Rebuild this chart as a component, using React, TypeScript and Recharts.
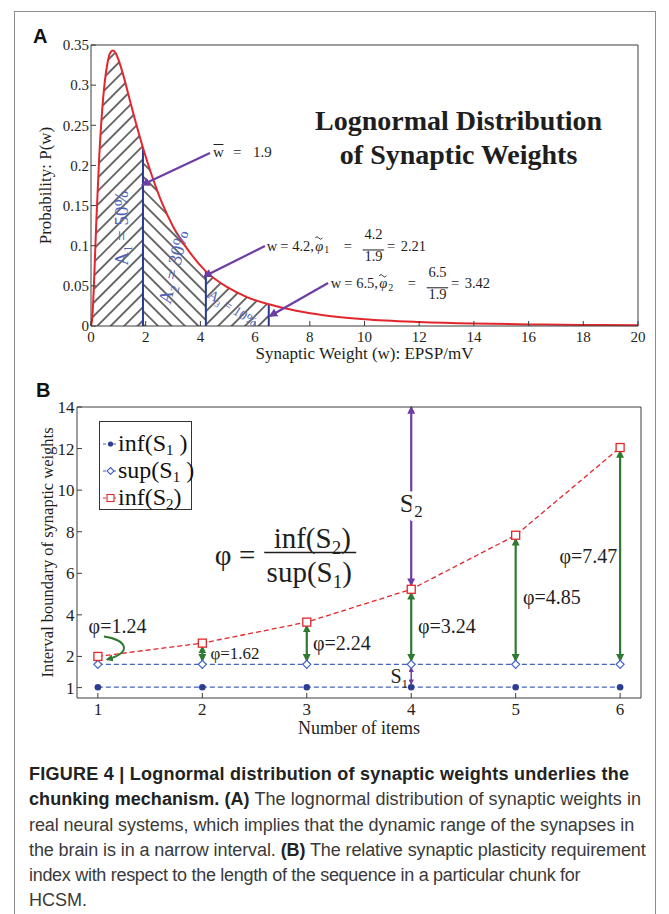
import React from 'react';
import {
    ComposedChart,
    Line,
    Area,
    XAxis,
    YAxis,
    ReferenceLine,
    ReferenceDot,
    Legend
} from 'recharts';

const SERIF = "'Liberation Serif', 'Times New Roman', Times, serif";
const SANS = "'Liberation Sans', Arial, Helvetica, sans-serif";

const RED = '#e3262c';
const NAVY = '#2a3990';
const PURPLE = '#6c3ea6';
const LABEL_BLUE = '#5063b8';
const GREEN = '#2f7a30';
const DOT_NAVY = '#2c3e94';
const DASH_BLUE = '#4262c4';
const AXIS = '#3c3c3c';
const INK = '#1e1e1e';

// ---- panel A: lognormal curve ----
const weights = [0, 0.05, 0.1, 0.15, 0.2, 0.3, 0.4, 0.5, 0.6, 0.7, 0.8, 0.9, 1.0, 1.2, 1.4, 1.6, 1.9, 2.2, 2.6, 3.0, 3.5, 4.2, 5.0, 5.7, 6.5, 7.5, 8.5, 10, 12, 14, 16, 18, 20];
const probs = [0, 0.012, 0.045, 0.09, 0.135, 0.21, 0.265, 0.303, 0.327, 0.34, 0.343, 0.34, 0.332, 0.31, 0.284, 0.258, 0.222, 0.19, 0.153, 0.124, 0.097, 0.068, 0.048, 0.036, 0.027, 0.019, 0.0135, 0.0085, 0.005, 0.003, 0.002, 0.0013, 0.0009];
const splitW = [1.9, 4.2, 6.5];
const areaShares = ['50%', '30%', '10%'];
const phiTilde = ['2.21', '3.42'];
const xTicksA = [0, 2, 4, 6, 8, 10, 12, 14, 16, 18, 20];
const yTicksA = [0, 0.05, 0.1, 0.15, 0.2, 0.25, 0.3, 0.35];
const yTickLabelsA = ['0', '0.05', '0.1', '0.15', '0.2', '0.25', '0.3', '0.35'];

// ---- panel B: interval boundaries per number of items ----
const items = [1, 2, 3, 4, 5, 6];
const infS1 = [0.52, 0.52, 0.52, 0.52, 0.52, 0.52];
const supS1 = [1.62, 1.62, 1.62, 1.62, 1.62, 1.62];
const infS2 = [2.0, 2.64, 3.65, 5.23, 7.83, 12.05];
const phiValues = ['1.24', '1.62', '2.24', '3.24', '4.85', '7.47'];
const xTicksB = [1, 2, 3, 4, 5, 6];
const yTicksB = [0.5, 2, 4, 6, 8, 10, 12, 14];
const yTickLabelsB = ['1', '2', '4', '6', '8', '10', '12', '14'];
const seriesNames = ['inf(S1)', 'sup(S1)', 'inf(S2)'];

const splitP = splitW.map(w => probs[weights.indexOf(w)]);

const dataA = weights.map((w, i) => ({
    w,
    p: probs[i],
    a1: w <= splitW[0] ? probs[i] : null,
    a2: w >= splitW[0] && w <= splitW[1] ? probs[i] : null,
    a3: w >= splitW[1] && w <= splitW[2] ? probs[i] : null
}));

const dataB = items.map((n, i) => ({
    n,
    infS1: infS1[i],
    supS1: supS1[i],
    infS2: infS2[i]
}));

// annotation placement (data coords)
const arrowsA = [
    { from: [4.35, 0.2155], to: [1.88, 0.176] },
    { from: [6.36, 0.0996], to: [4.15, 0.062] },
    { from: [8.67, 0.0536], to: [6.55, 0.0125] }
];
const areaLabelAt = [
    { x: 1.1, y: 0.122, angle: -90, size: 19 },
    { x: 3.0, y: 0.0735, angle: -76, size: 19 },
    { x: 5.19, y: 0.0224, angle: 33, size: 14 }
];
const phiLabelAt = [[0.911, 3.44], [2.077, 2.16], [3.06, 2.66], [4.064, 3.44], [5.07, 4.88], [5.42, 6.84]];

const tickA = { fill: INK, fontSize: 15, fontFamily: SERIF };
const tickB = { fill: INK, fontSize: 17, fontFamily: SERIF };

const meanNote = (p: any) => (
    <g fontFamily={SERIF} fontSize={15} fill={INK}>
        <text x={p.cx} y={p.cy} dy="0.35em">w</text>
        <line x1={p.cx + 0.5} x2={p.cx + 10.5} y1={p.cy - 7.5} y2={p.cy - 7.5} stroke={INK} strokeWidth={1} />
        <text x={p.cx + 20} y={p.cy} dy="0.35em">=</text>
        <text x={p.cx + 40} y={p.cy} dy="0.35em">{splitW[0]}</text>
    </g>
);

const phiNote = (w: number, sub: string, result: string) => (p: any) => (
    <g fontFamily={SERIF} fontSize={14.5} fill={INK}>
        <text x={p.cx} y={p.cy} dy="0.35em">w</text>
        <text x={p.cx + 13.5} y={p.cy} dy="0.35em">=</text>
        <text x={p.cx + 25.5} y={p.cy} dy="0.35em">{w},</text>
        <text x={p.cx + 48.5} y={p.cy} dy="0.35em" fontStyle="italic">{'\u03C6'}</text>
        <path d={`M${p.cx + 48.5},${p.cy - 7.5} q1.8,-2.6 3.6,0 t3.6,0`} stroke={INK} fill="none" strokeWidth={0.9} />
        <text x={p.cx + 57.5} y={p.cy + 4} dy="0.35em" fontSize={10}>{sub}</text>
        <text x={p.cx + 77} y={p.cy} dy="0.35em">=</text>
        <text x={p.cx + 106.8} y={p.cy - 11.5} dy="0.35em" textAnchor="middle">{w}</text>
        <line x1={p.cx + 96} x2={p.cx + 117.5} y1={p.cy + 4.5} y2={p.cy + 4.5} stroke={INK} strokeWidth={1} />
        <text x={p.cx + 106.8} y={p.cy + 10.5} dy="0.35em" textAnchor="middle">{splitW[0]}</text>
        <text x={p.cx + 120.2} y={p.cy} dy="0.35em">=</text>
        <text x={p.cx + 134} y={p.cy} dy="0.35em">{result}</text>
    </g>
);

const areaNote = (idx: number) => (p: any) => {
    const a = areaLabelAt[idx];
    return (
        <text
            x={p.cx}
            y={p.cy}
            dy="0.35em"
            textAnchor="middle"
            transform={`rotate(${a.angle}, ${p.cx}, ${p.cy})`}
            fontFamily={SERIF}
            fontSize={a.size}
            fill={LABEL_BLUE}
        >
            A<tspan fontSize={a.size * 0.65} dy={a.size * 0.25}>{idx + 1}</tspan>
            <tspan dy={-a.size * 0.25}> = {areaShares[idx]}</tspan>
        </text>
    );
};

const titleNote = (p: any) => (
    <g fontFamily={SERIF} fontSize={28} fontWeight="bold" fill={INK} textAnchor="middle">
        <text x={p.cx} y={p.cy} dy="0.35em">Lognormal Distribution</text>
        <text x={p.cx} y={p.cy + 34} dy="0.35em">of Synaptic Weights</text>
    </g>
);

function PanelA() {
    return (
        <ComposedChart width={669} height={380} data={dataA} margin={{ top: 44, right: 30, bottom: 0, left: 31 }}>
            <defs>
                <pattern id="hatchUp" patternUnits="userSpaceOnUse" width="9.5" height="9.5" patternTransform="rotate(45)">
                    <line x1="4.75" y1="0" x2="4.75" y2="9.5" stroke="#1f1f1f" strokeWidth="1.3" />
                </pattern>
                <pattern id="hatchDown" patternUnits="userSpaceOnUse" width="9.5" height="9.5" patternTransform="rotate(-45)">
                    <line x1="4.75" y1="0" x2="4.75" y2="9.5" stroke="#1f1f1f" strokeWidth="1.3" />
                </pattern>
                <marker id="arrowPurpleA" viewBox="0 0 10 10" refX="8" refY="5" markerWidth="4" markerHeight="4" orient="auto-start-reverse">
                    <path d="M0,0 L10,5 L0,10 z" fill={PURPLE} />
                </marker>
            </defs>
            <XAxis
                type="number"
                dataKey="w"
                domain={[0, 20]}
                ticks={xTicksA}
                interval={0}
                tickSize={-5}
                tickMargin={10}
                height={54}
                stroke={AXIS}
                tick={tickA}
                label={{ value: 'Synaptic Weight (w): EPSP/mV', position: 'insideBottom', offset: 21, style: { fill: INK, fontSize: 17, fontFamily: SERIF } }}
            />
            <XAxis xAxisId="top" orientation="top" type="number" dataKey="w" domain={[0, 20]} ticks={xTicksA} interval={0} tickSize={-5} height={1} stroke={AXIS} tick={false} />
            <YAxis
                type="number"
                domain={[0, 0.35]}
                ticks={yTicksA}
                interval={0}
                tickFormatter={(v: number) => yTickLabelsA[yTicksA.indexOf(v)]}
                width={60}
                tickSize={-5}
                tickMargin={7}
                stroke={AXIS}
                tick={tickA}
                label={{ value: 'Probability: P(w)', angle: -90, position: 'insideLeft', offset: 14, style: { textAnchor: 'middle', fill: INK, fontSize: 17, fontFamily: SERIF } }}
            />
            <YAxis yAxisId="right" orientation="right" type="number" domain={[0, 0.35]} ticks={yTicksA} interval={0} tickSize={-5} width={1} stroke={AXIS} tick={false} />

            <Area type="monotone" dataKey="a1" stroke="none" fill="url(#hatchUp)" fillOpacity={1} activeDot={false} isAnimationActive={false} />
            <Area type="monotone" dataKey="a2" stroke="none" fill="url(#hatchDown)" fillOpacity={1} activeDot={false} isAnimationActive={false} />
            <Area type="monotone" dataKey="a3" stroke="none" fill="url(#hatchUp)" fillOpacity={1} activeDot={false} isAnimationActive={false} />

            {splitW.map((w, i) => (
                <ReferenceLine key={`split-${w}`} segment={[{ x: w, y: 0 }, { x: w, y: splitP[i] }]} stroke={NAVY} strokeWidth={2} />
            ))}

            <Line type="monotone" dataKey="p" stroke={RED} strokeWidth={2} dot={false} activeDot={false} isAnimationActive={false} />
            {/* binds the box axes so they draw */}
            <Line xAxisId="top" yAxisId="right" type="monotone" dataKey="p" stroke="none" dot={false} activeDot={false} legendType="none" isAnimationActive={false} />

            {arrowsA.map((a, i) => (
                <ReferenceLine
                    key={`arrow-${i}`}
                    segment={[{ x: a.from[0], y: a.from[1] }, { x: a.to[0], y: a.to[1] }]}
                    stroke={PURPLE}
                    strokeWidth={2.2}
                    markerEnd="url(#arrowPurpleA)"
                />
            ))}

            {areaLabelAt.map((a, i) => (
                <ReferenceDot key={`area-${i}`} x={a.x} y={a.y} r={0} shape={areaNote(i)} />
            ))}

            <ReferenceDot x={4.46} y={0.2167} r={0} shape={meanNote} />
            <ReferenceDot x={6.424} y={0.1003} r={0} shape={phiNote(splitW[1], '1', phiTilde[0])} />
            <ReferenceDot x={8.764} y={0.0532} r={0} shape={phiNote(splitW[2], '2', phiTilde[1])} />
            <ReferenceDot x={13.44} y={0.2566} r={0} shape={titleNote} />
        </ComposedChart>
    );
}

const circleDot = (props: any) => (
    <circle key={`c-${props.index}`} cx={props.cx} cy={props.cy} r={3.3} fill={DOT_NAVY} />
);
const diamondDot = (props: any) => {
    const { cx, cy } = props;
    const s = 4;
    return (
        <path key={`d-${props.index}`} d={`M${cx},${cy - s}L${cx + s},${cy}L${cx},${cy + s}L${cx - s},${cy}Z`} fill="#fff" stroke={DASH_BLUE} strokeWidth={1.2} />
    );
};
const squareDot = (props: any) => (
    <rect key={`s-${props.index}`} x={props.cx - 4} y={props.cy - 4} width={8} height={8} fill="#fff" stroke={RED} strokeWidth={1.3} />
);

const legendMarks: Record<string, { color: string; mark: (x: number, y: number) => React.ReactNode }> = {
    infS1: { color: DASH_BLUE, mark: (x, y) => <circle cx={x} cy={y} r={2.6} fill={DOT_NAVY} /> },
    supS1: { color: DASH_BLUE, mark: (x, y) => <path d={`M${x},${y - 3.5}L${x + 3.5},${y}L${x},${y + 3.5}L${x - 3.5},${y}Z`} fill="#fff" stroke={DASH_BLUE} strokeWidth={1.1} /> },
    infS2: { color: RED, mark: (x, y) => <rect x={x - 3.5} y={y - 3.5} width={7} height={7} fill="#fff" stroke={RED} strokeWidth={1.1} /> }
};

function legendText(name: string) {
    // "inf(S1)" -> inf(S<sub>1</sub> )
    const m = name.match(/^(.*S)(\d)\)$/);
    if (!m) return name;
    const spaced = m[2] === '1' ? '\u00A0)' : ')';
    return (
        <>
            {m[1]}
            <sub style={{ fontSize: 15, verticalAlign: '-4px', lineHeight: 0 }}>{m[2]}</sub>
            {spaced}
        </>
    );
}

function LegendBox({ payload }: any) {
    const rows = (payload || [])
        .filter((e: any) => seriesNames.includes(e.value))
        .sort((a: any, b: any) => seriesNames.indexOf(a.value) - seriesNames.indexOf(b.value));
    return (
        <div
            style={{
                border: '1.5px solid #333',
                background: '#fff',
                width: 93,
                height: 89,
                padding: '8px 0 0 3px',
                boxSizing: 'border-box',
                fontFamily: SERIF,
                fontSize: 24,
                lineHeight: '27px',
                color: '#111'
            }}
        >
            {rows.map((entry: any) => {
                const lm = legendMarks[entry.dataKey];
                return (
                    <div key={entry.dataKey} style={{ display: 'flex', alignItems: 'center', height: 27, whiteSpace: 'nowrap' }}>
                        <svg width={15} height={12} style={{ flex: 'none' }}>
                            <line x1={0} x2={15} y1={6} y2={6} stroke={lm.color} strokeWidth={1.2} strokeDasharray="3 2" />
                            {lm.mark(7.5, 6)}
                        </svg>
                        <span>{legendText(entry.value)}</span>
                    </div>
                );
            })}
        </div>
    );
}

const curlArrow = (p: any) => (
    <path
        d={`M${p.cx + 6},${p.cy - 20} C${p.cx + 28},${p.cy - 17} ${p.cx + 36},${p.cy - 4} ${p.cx + 9},${p.cy + 3}`}
        fill="none"
        stroke={GREEN}
        strokeWidth={2}
        markerEnd="url(#arrowGreen)"
    />
);

const phiLabel = (text: string, size: number) => (p: any) => (
    <text x={p.cx} y={p.cy} dy="0.35em" fontFamily={SERIF} fontSize={size} fill={INK}>
        {'\u03C6'}={text}
    </text>
);

const subLabel = (letter: string, sub: string, size: number, halo: boolean) => (p: any) => (
    <text
        x={p.cx}
        y={p.cy}
        dy="0.35em"
        textAnchor="middle"
        fontFamily={SERIF}
        fontSize={size}
        fill={INK}
        stroke={halo ? '#fff' : 'none'}
        strokeWidth={halo ? 8 : 0}
        style={{ paintOrder: 'stroke' }}
    >
        {letter}
        <tspan fontSize={size * 0.65} dy={size * 0.22}>{sub}</tspan>
    </text>
);

const formula = (p: any) => (
    <g fontFamily={SERIF} fontSize={29} fill={INK}>
        <text x={p.cx} y={p.cy + 2} dy="0.35em" textAnchor="middle">{'\u03C6'}</text>
        <text x={p.cx + 24} y={p.cy + 2} dy="0.35em" textAnchor="middle">=</text>
        <text x={p.cx + 89} y={p.cy - 15} dy="0.35em" textAnchor="middle">
            inf(S<tspan fontSize={19} dy={6}>2</tspan><tspan dy={-6}>)</tspan>
        </text>
        <line x1={p.cx + 41} x2={p.cx + 133} y1={p.cy} y2={p.cy} stroke={INK} strokeWidth={1.3} />
        <text x={p.cx + 86} y={p.cy + 19} dy="0.35em" textAnchor="middle">
            sup(S<tspan fontSize={19} dy={6}>1</tspan><tspan dy={-6}>)</tspan>
        </text>
    </g>
);

function PanelB() {
    return (
        <ComposedChart width={669} height={360} data={dataB} margin={{ top: 26, right: 27, bottom: 0, left: 27 }}>
            <defs>
                <marker id="arrowGreen" viewBox="0 0 10 10" refX="8.5" refY="5" markerWidth="3.6" markerHeight="3.6" orient="auto-start-reverse">
                    <path d="M0,0 L10,5 L0,10 z" fill={GREEN} />
                </marker>
                <marker id="arrowPurpleB" viewBox="0 0 10 10" refX="8.5" refY="5" markerWidth="3.6" markerHeight="3.6" orient="auto-start-reverse">
                    <path d="M0,0 L10,5 L0,10 z" fill={PURPLE} />
                </marker>
            </defs>
            <XAxis
                type="number"
                dataKey="n"
                domain={[0.8, 6.2]}
                ticks={xTicksB}
                interval={0}
                tickSize={-5}
                tickMargin={10}
                height={42}
                stroke={AXIS}
                tick={tickB}
                label={{ value: 'Number of items', position: 'insideBottom', offset: 6, style: { fill: INK, fontSize: 18, fontFamily: SERIF } }}
            />
            <XAxis xAxisId="top" orientation="top" type="number" dataKey="n" domain={[0.8, 6.2]} ticks={xTicksB} interval={0} tickSize={-5} height={1} stroke={AXIS} tick={false} />
            <YAxis
                type="number"
                domain={[0, 14]}
                ticks={yTicksB}
                interval={0}
                tickFormatter={(v: number) => yTickLabelsB[yTicksB.indexOf(v)]}
                width={50}
                tickSize={-5}
                tickMargin={7.5}
                stroke={AXIS}
                tick={tickB}
                label={{ value: 'Interval boundary of synaptic weights', angle: -90, position: 'insideLeft', offset: 20, style: { textAnchor: 'middle', fill: INK, fontSize: 16.5, fontFamily: SERIF } }}
            />
            <YAxis yAxisId="right" orientation="right" type="number" domain={[0, 14]} ticks={yTicksB} interval={0} tickSize={-5} width={1} stroke={AXIS} tick={false} />

            <Legend
                layout="vertical"
                align="center"
                verticalAlign="middle"
                wrapperStyle={{ left: 99, top: 41, width: 93, height: 89 }}
                content={(props: any) => <LegendBox payload={props.payload} />}
            />

            {items.slice(1).map((n, k) => (
                <ReferenceLine
                    key={`phi-arrow-${n}`}
                    segment={[{ x: n, y: supS1[k + 1] + 0.17 }, { x: n, y: infS2[k + 1] - 0.17 }]}
                    stroke={GREEN}
                    strokeWidth={2.2}
                    markerStart="url(#arrowGreen)"
                    markerEnd="url(#arrowGreen)"
                />
            ))}
            <ReferenceLine
                segment={[{ x: items[3], y: infS2[3] + 0.2 }, { x: items[3], y: 14 }]}
                stroke={PURPLE}
                strokeWidth={2.2}
                markerStart="url(#arrowPurpleB)"
                markerEnd="url(#arrowPurpleB)"
            />
            <ReferenceLine
                segment={[{ x: items[3], y: infS1[3] + 0.15 }, { x: items[3], y: supS1[3] - 0.15 }]}
                stroke={PURPLE}
                strokeWidth={1.5}
                markerStart="url(#arrowPurpleB)"
                markerEnd="url(#arrowPurpleB)"
            />

            <Line type="linear" dataKey="infS1" name={seriesNames[0]} stroke={DASH_BLUE} strokeWidth={1.3} strokeDasharray="5 3" dot={circleDot} activeDot={false} isAnimationActive={false} />
            <Line type="linear" dataKey="supS1" name={seriesNames[1]} stroke={DASH_BLUE} strokeWidth={1.3} strokeDasharray="5 3" dot={diamondDot} activeDot={false} isAnimationActive={false} />
            <Line type="linear" dataKey="infS2" name={seriesNames[2]} stroke={RED} strokeWidth={1.3} strokeDasharray="5 3" dot={squareDot} activeDot={false} isAnimationActive={false} />
            {/* binds the box axes so they draw */}
            <Line xAxisId="top" yAxisId="right" type="linear" dataKey="infS2" name="box" stroke="none" dot={false} activeDot={false} legendType="none" isAnimationActive={false} />

            <ReferenceDot x={items[0]} y={infS2[0]} r={0} shape={curlArrow} />
            {phiValues.map((v, i) => (
                <ReferenceDot key={`phi-${i}`} x={phiLabelAt[i][0]} y={phiLabelAt[i][1]} r={0} shape={phiLabel(v, i === 1 ? 17 : 20)} />
            ))}
            <ReferenceDot x={items[3]} y={9.4} r={0} shape={subLabel('S', '2', 26, true)} />
            <ReferenceDot x={3.885} y={1.04} r={0} shape={subLabel('S', '1', 20, false)} />
            <ReferenceDot x={2.2} y={7.0} r={0} shape={formula} />
        </ComposedChart>
    );
}

function Caption() {
    const spacing = [0.24, 0.07, -0.08, -0.1, -0.3, 0];
    const line = (i: number): React.CSSProperties => ({ whiteSpace: 'nowrap', height: 25.3, letterSpacing: `${spacing[i]}px` });
    const bold: React.CSSProperties = { color: '#222' };
    return (
        <div
            style={{
                position: 'absolute',
                left: 29,
                top: 762,
                fontFamily: SANS,
                fontSize: 18,
                lineHeight: '25.3px',
                color: '#3a3a3a'
            }}
        >
            <div style={line(0)}><b style={bold}>FIGURE 4 | Lognormal distribution of synaptic weights underlies the</b></div>
            <div style={line(1)}><b style={bold}>chunking mechanism. (A)</b> The lognormal distribution of synaptic weights in</div>
            <div style={line(2)}>real neural systems, which implies that the dynamic range of the synapses in</div>
            <div style={line(3)}>the brain is in a narrow interval. <b style={bold}>(B)</b> The relative synaptic plasticity requirement</div>
            <div style={line(4)}>index with respect to the length of the sequence in a particular chunk for</div>
            <div style={line(5)}>HCSM.</div>
        </div>
    );
}

export default function App() {
    const panelLetter: React.CSSProperties = {
        position: 'absolute',
        fontFamily: SANS,
        fontWeight: 'bold',
        fontSize: 20,
        lineHeight: 1,
        color: '#111'
    };
    return (
        <div style={{ position: 'absolute', left: 0, top: 0, width: 669, height: 914, background: '#fff', overflow: 'hidden' }}>
            <div
                style={{
                    position: 'absolute',
                    left: 14,
                    top: 11,
                    width: 642,
                    height: 930,
                    borderTop: '1.5px solid #8c8c8c',
                    borderLeft: '1.5px solid #8c8c8c',
                    borderRight: '1.5px solid #8c8c8c',
                    boxSizing: 'border-box'
                }}
            />
            <div style={{ position: 'absolute', left: 0, top: 0 }}>
                <PanelA />
            </div>
            <div style={{ position: 'absolute', left: 0, top: 380 }}>
                <PanelB />
            </div>
            <div style={{ ...panelLetter, left: 33, top: 26 }}>A</div>
            <div style={{ ...panelLetter, left: 36, top: 380 }}>B</div>
            <Caption />
        </div>
    );
}
